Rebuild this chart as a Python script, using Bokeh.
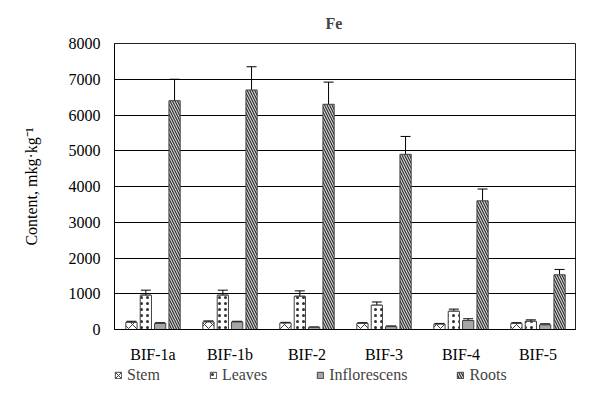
from bokeh.plotting import figure
from bokeh.layouts import column
from bokeh.models import (FactorRange, ColumnDataSource, Whisker, TeeHead, Legend,
                          LegendItem, SingleIntervalTicker, Range1d)
from bokeh.transform import dodge
from bokeh.embed import file_html
from bokeh.resources import INLINE

categories = ["BIF-1a", "BIF-1b", "BIF-2", "BIF-3", "BIF-4", "BIF-5"]
series_names = ["Stem", "Leaves", "Inflorescens", "Roots"]

stem = [200, 210, 180, 170, 150, 170]
stem_err_plus = [30, 30, 20, 20, 20, 20]
stem_err_minus = [0, 0, 0, 0, 0, 0]

leaves = [960, 960, 930, 680, 510, 230]
leaves_err_plus = [140, 140, 150, 90, 60, 40]
leaves_err_minus = [0, 0, 0, 0, 0, 0]

infl = [170, 210, 60, 80, 250, 130]
infl_err_plus = [20, 20, 10, 20, 50, 30]
infl_err_minus = [0, 0, 0, 0, 0, 0]

roots = [6400, 6700, 6300, 4900, 3600, 1530]
roots_err_plus = [600, 650, 620, 500, 330, 150]
roots_err_minus = [600, 650, 620, 500, 330, 150]

FONT = "Liberation Serif"

data = dict(cat=categories)
for key, vals, ep, em in [("stem", stem, stem_err_plus, stem_err_minus),
                          ("leaves", leaves, leaves_err_plus, leaves_err_minus),
                          ("infl", infl, infl_err_plus, infl_err_minus),
                          ("roots", roots, roots_err_plus, roots_err_minus)]:
    data[key] = vals
    data[key + "_up"] = [v + e for v, e in zip(vals, ep)]
    data[key + "_lo"] = [v - e for v, e in zip(vals, em)]
src = ColumnDataSource(data)

p = figure(x_range=FactorRange(*categories), y_range=(0, 8000),
           width=576, height=365, output_backend="svg", toolbar_location=None,
           min_border_left=114, min_border_right=0, min_border_top=43,
           min_border_bottom=33)

p.title.text = "Fe"
p.title.text_font = FONT
p.title.text_font_size = "16px"
p.title.text_font_style = "bold"
p.title.align = "left"
p.title.offset = 211
p.title.standoff = 24

p.outline_line_color = "#222222"
p.outline_line_width = 1
p.xgrid.visible = False
p.ygrid.grid_line_color = "black"
p.ygrid.grid_line_width = 1

p.yaxis.ticker = SingleIntervalTicker(interval=1000)
p.yaxis.major_label_text_font = FONT
p.yaxis.major_label_text_font_size = "16px"
p.yaxis.major_label_text_color = "black"
p.yaxis.major_tick_line_color = None
p.yaxis.minor_tick_line_color = None
p.yaxis.major_tick_out = 0
p.yaxis.minor_tick_out = 0
p.yaxis.major_label_standoff = 14
p.yaxis.axis_line_color = "black"
p.yaxis.axis_label = "Content, mkg·kg⁻¹"
p.yaxis.axis_label_text_font = FONT
p.yaxis.axis_label_text_font_size = "16px"
p.yaxis.axis_label_text_font_style = "normal"
p.yaxis.axis_label_text_color = "black"
p.yaxis.axis_label_standoff = 26

p.xaxis.major_label_text_font = FONT
p.xaxis.major_label_text_font_size = "16px"
p.xaxis.major_label_text_color = "black"
p.xaxis.major_tick_line_color = None
p.xaxis.minor_tick_line_color = None
p.xaxis.major_tick_out = 0
p.xaxis.minor_tick_out = 0
p.xaxis.major_label_standoff = 16
p.xaxis.axis_line_color = "black"

offsets = [-0.28, -0.093, 0.093, 0.28]
bw = 0.146
styles = [
    dict(fill_color="white", hatch_pattern="diagonal_cross", hatch_color="#404040", hatch_scale=8, hatch_weight=1),
    dict(fill_color="white", hatch_pattern="dot", hatch_color="#303030", hatch_scale=6, hatch_weight=1.2),
    dict(fill_color="#a6a6a6"),
    dict(fill_color="#d9d9d9", hatch_pattern="left_diagonal_line", hatch_color="#303030", hatch_scale=5, hatch_weight=1.2),
]
keys = ["stem", "leaves", "infl", "roots"]
for key, off, st in zip(keys, offsets, styles):
    p.vbar(x=dodge("cat", off, range=p.x_range), top=key, width=bw, bottom=0,
           source=src, line_color="#404040", line_width=1, **st)
    w = Whisker(source=src, base=dodge("cat", off, range=p.x_range),
                upper=key + "_up", lower=key + "_lo", line_color="black", line_width=1,
                upper_head=TeeHead(size=10, line_color="black", line_width=1),
                lower_head=TeeHead(size=10, line_color="black", line_width=1))
    p.add_layout(w)

# legend strip below the chart: hidden renderers that only supply legend swatches
lg = figure(width=576, height=20, output_backend="svg", toolbar_location=None,
            x_range=FactorRange(*categories), y_range=Range1d(-100000, -99999),
            min_border_left=114, min_border_right=0, min_border_top=0, min_border_bottom=0)
lg.axis.visible = False
lg.grid.visible = False
lg.outline_line_color = None
leg_renderers = []
for key, off, st in zip(keys, offsets, styles):
    r = lg.vbar(x=dodge("cat", off, range=lg.x_range), top=key, width=bw, bottom=0,
                source=src, line_color="#404040", line_width=1, **st)
    r.visible = False
    leg_renderers.append(r)

legend = Legend(items=[LegendItem(label=n, renderers=[r]) for n, r in zip(series_names, leg_renderers)],
                orientation="horizontal", location=(0, 0), click_policy="none",
                glyph_width=8, glyph_height=8, label_standoff=5, spacing=49,
                label_text_font=FONT, label_text_font_size="16px", label_height=20,
                border_line_color=None, background_fill_alpha=0,
                inactive_fill_alpha=0, padding=0, margin=0)
lg.add_layout(legend)

layout = column(p, lg, spacing=0)
open("out.html", "w").write(file_html(layout, INLINE))
